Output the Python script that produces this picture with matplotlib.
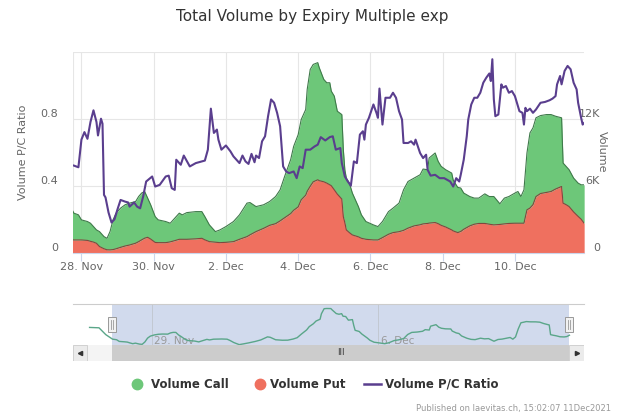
import numpy as np
import matplotlib
matplotlib.use("Agg")
import matplotlib.pyplot as plt
import matplotlib.transforms as mtransforms
from matplotlib.lines import Line2D
from matplotlib.patches import Rectangle

# hours since 28 Nov 2021 00:00, volumes in thousands
vol_hours = [-22, -15, -10, -5, -2, 0, 4, 6, 8, 10, 12, 15, 17, 19, 21, 23, 26, 29, 32, 36,
             38, 40, 42, 44, 46, 49, 51, 56, 59, 62, 65, 67, 70, 76, 80, 82, 85, 89, 92, 96,
             101, 105, 110, 112, 116, 121, 125, 129, 132, 135, 139, 141, 144, 146, 149, 150,
             152, 154, 157, 158, 161, 163, 165, 166, 168, 170, 173, 174, 175, 176, 178, 180,
             184, 186, 189, 194, 197, 200, 204, 207, 211, 214, 217, 221, 225, 227, 230, 231,
             235, 237, 239, 242, 246, 247, 250, 252, 254, 258, 261, 264, 268, 271, 274, 278,
             281, 284, 288, 290, 292, 294, 296, 298, 300, 302, 305, 309, 312, 315, 319, 320,
             322, 324, 327, 330, 332, 334]
vol_call = [5.5, 5.4, 3.6, 2.40, 2.25, 1.80, 1.69, 1.62, 1.39, 1.20, 1.34, 1.09, 1.03, 1.64, 2.66,
            3.19, 3.51, 3.69, 3.75, 3.73, 4.04, 4.19, 4.18, 3.51, 3.07, 2.31, 2.04, 1.89, 1.67,
            2.01, 2.34, 2.19, 2.39, 2.44, 2.39, 2.08, 1.50, 0.95, 1.14, 1.41, 1.80, 2.19, 3.00,
            2.89, 2.24, 2.11, 2.13, 2.43, 2.78, 3.70, 4.83, 5.72, 6.47, 7.19, 7.67, 9.12, 10.46,
            10.51, 10.49, 10.12, 9.17, 8.99, 9.14, 8.47, 8.39, 7.42, 7.57, 6.00, 4.73, 4.64,
            4.43, 3.75, 2.71, 2.10, 1.59, 1.35, 1.20, 1.44, 2.03, 2.19, 2.56, 3.63, 4.18, 4.28,
            4.48, 4.91, 4.81, 5.83, 6.23, 5.58, 5.28, 5.13, 5.09, 4.55, 4.05, 3.89, 3.24, 2.63,
            2.34, 2.27, 2.65, 2.48, 2.54, 1.85, 2.31, 2.41, 2.70, 2.84, 2.39, 2.99, 5.09, 6.73,
            6.88, 7.05, 6.98, 6.97, 6.89, 6.52, 6.15, 3.59, 3.43, 3.30, 3.03, 2.98, 3.08, 3.44]
vol_put = [1.3, 1.2, 1.2, 1.14, 1.14, 1.14, 1.10, 1.02, 0.95, 0.84, 0.55, 0.35, 0.26, 0.25, 0.28,
           0.35, 0.48, 0.60, 0.69, 0.85, 0.99, 1.15, 1.30, 1.38, 1.22, 0.92, 0.90, 0.90, 0.97,
           1.08, 1.20, 1.20, 1.20, 1.24, 1.29, 1.15, 0.99, 0.94, 0.90, 0.93, 0.99, 1.20, 1.44,
           1.60, 1.89, 2.18, 2.45, 2.60, 2.85, 3.13, 3.50, 3.80, 4.10, 4.73, 5.15, 5.50, 5.95,
           6.35, 6.53, 6.45, 6.35, 6.23, 6.08, 6.00, 5.63, 5.25, 4.80, 3.23, 2.70, 2.04, 1.80,
           1.59, 1.42, 1.29, 1.20, 1.14, 1.14, 1.35, 1.65, 1.80, 1.88, 2.00, 2.20, 2.40, 2.50,
           2.58, 2.62, 2.65, 2.70, 2.60, 2.45, 2.30, 2.04, 1.95, 1.80, 1.90, 2.10, 2.40, 2.55,
           2.62, 2.62, 2.55, 2.49, 2.53, 2.58, 2.62, 2.64, 2.64, 2.64, 2.64, 3.84, 4.00, 4.30,
           5.03, 5.30, 5.40, 5.48, 5.70, 5.93, 4.44, 4.30, 4.13, 3.65, 3.25, 3.00, 2.64]

ratio_hours = [-5, -2, 0, 2, 4, 6, 8, 10, 11, 13, 14, 15, 16, 18, 20, 22, 24, 26, 29, 31, 32, 35,
               37, 39, 41, 43, 47, 49, 52, 56, 58, 60, 62, 63, 66, 68, 72, 76, 80, 82, 84, 86,
               88, 90, 91, 93, 96, 99, 101, 103, 105, 107, 109, 111, 113, 115, 116, 118, 120,
               122, 124, 126, 128, 130, 132, 134, 136, 138, 141, 143, 145, 147, 149, 152, 155,
               157, 159, 162, 165, 167, 169, 172, 173, 175, 177, 179, 181, 183, 185, 187, 188,
               189, 191, 194, 196, 197, 198, 200, 202, 205, 207, 209, 211, 213, 214, 217, 219,
               221, 222, 225, 227, 229, 230, 232, 235, 238, 241, 245, 247, 249, 251, 252, 254,
               256, 257, 259, 261, 263, 265, 267, 269, 271, 272, 273, 274, 275, 277, 279, 280,
               282, 284, 286, 288, 290, 291, 293, 294, 295, 296, 298, 300, 302, 305, 308, 311,
               313, 315, 316, 318, 319, 321, 323, 325, 327, 329, 330, 332, 333, 335]
ratio = [0.52, 0.51, 0.675, 0.72, 0.68, 0.78, 0.85, 0.78, 0.70, 0.80, 0.77, 0.345, 0.33, 0.24,
         0.18, 0.20, 0.26, 0.315, 0.305, 0.30, 0.275, 0.30, 0.275, 0.265, 0.335, 0.425, 0.455,
         0.395, 0.405, 0.455, 0.46, 0.385, 0.375, 0.555, 0.525, 0.58, 0.515, 0.535, 0.545, 0.55,
         0.615, 0.86, 0.715, 0.735, 0.675, 0.615, 0.64, 0.605, 0.575, 0.555, 0.535, 0.58, 0.545,
         0.53, 0.59, 0.54, 0.58, 0.565, 0.665, 0.695, 0.815, 0.915, 0.895, 0.835, 0.755, 0.515,
         0.485, 0.475, 0.485, 0.445, 0.515, 0.505, 0.615, 0.615, 0.635, 0.645, 0.69, 0.67, 0.69,
         0.695, 0.615, 0.625, 0.535, 0.455, 0.425, 0.40, 0.545, 0.535, 0.705, 0.725, 0.675,
         0.765, 0.805, 0.885, 0.835, 0.805, 0.98, 0.765, 0.925, 0.925, 0.955, 0.925, 0.845,
         0.795, 0.655, 0.655, 0.665, 0.645, 0.675, 0.595, 0.565, 0.585, 0.495, 0.46, 0.465,
         0.445, 0.445, 0.425, 0.395, 0.445, 0.425, 0.465, 0.555, 0.695, 0.795, 0.885, 0.925,
         0.925, 0.955, 1.015, 1.045, 1.07, 1.025, 1.155, 0.915, 0.815, 0.825, 1.005, 0.985,
         0.995, 0.955, 0.965, 0.935, 0.875, 0.845, 0.835, 0.765, 0.865, 0.845, 0.86, 0.835,
         0.855, 0.895, 0.90, 0.91, 0.92, 0.935, 1.005, 1.055, 1.005, 1.085, 1.115, 1.095,
         1.015, 0.975, 0.895, 0.805, 0.765, 0.785]

x_tick_hours = [0, 48, 96, 144, 192, 240, 288]
x_tick_labels = ["28. Nov", "30. Nov", "2. Dec", "4. Dec", "6. Dec", "8. Dec", "10. Dec"]
ratio_ticks = [0, 0.4, 0.8, 1.2]
ratio_tick_labels = ["0", "0.4", "0.8", ""]
vol_ticks = [0, 6, 12, 18]
vol_tick_labels = ["0", "6K", "12K", ""]
nav_tick_hours = [24, 192]
nav_tick_labels = ["29. Nov", "6. Dec"]

GREEN = "#6dc779"
RED = "#ef705f"
PURPLE = "#5a3e8e"
GRID = "#e6e6e6"
TXT = "#666666"

W, H = 624, 416
def box(x0, y0, x1, y1):
    return [x0 / W, 1 - y1 / H, (x1 - x0) / W, (y1 - y0) / H]

plt.rcParams["font.family"] = ["DejaVu Sans"]
fig = plt.figure(figsize=(6.24, 4.16), dpi=100)

view = (-5.6, 333.9)
call = np.array(vol_call)
put = np.array(vol_put)

## main chart: volume on the right axis, ratio on the left
ax = fig.add_axes(box(73, 51.7, 584, 252.7))
axr = ax.twinx()

ax.fill_between(vol_hours, 0, put, color=RED, lw=0, zorder=2)
ax.fill_between(vol_hours, put, put + call, color=GREEN, lw=0, zorder=2)
ax.plot(vol_hours, put, color="#80483f", lw=0.8, zorder=3)
ax.plot(vol_hours, put + call, color="#3f7a4a", lw=0.8, zorder=3)
ax.set_xlim(*view)
ax.set_ylim(0, 18)
ax.set_xticks(x_tick_hours, x_tick_labels)
ax.set_yticks(vol_ticks, vol_tick_labels)
ax.yaxis.tick_right()
ax.grid(True, color=GRID, lw=0.8, zorder=0)
ax.set_axisbelow(True)
for s in ["top", "left", "right"]:
    ax.spines[s].set_visible(False)
ax.spines["bottom"].set_color("#ccd6eb")
ax.tick_params(axis="x", length=6, color="#ccd6eb", pad=1, labelsize=8, labelcolor=TXT)
ax.tick_params(axis="y", length=0, pad=11.5, labelsize=8, labelcolor=TXT)
plt.setp(ax.get_yticklabels(), ha="right")
ax.yaxis.set_label_position("right")
ax.set_ylabel("Volume", rotation=270, fontsize=8, color=TXT, ha="center", va="center")
ax.yaxis.set_label_coords((601.7 - 73) / 511, 0.5)
ax.axvline(view[0], color=GRID, lw=0.8, zorder=1)

axr.plot(ratio_hours, ratio, color=PURPLE, lw=1.5, solid_joinstyle="round")
axr.set_ylim(0, 1.2)
axr.set_xlim(*view)
axr.set_yticks(ratio_ticks, ratio_tick_labels)
axr.yaxis.tick_left()
axr.tick_params(axis="y", length=0, pad=10.6, labelsize=8, labelcolor=TXT)
axr.yaxis.set_label_position("left")
axr.set_ylabel("Volume P/C Ratio", fontsize=8, color=TXT, ha="center", va="center")
axr.yaxis.set_label_coords((22.7 - 73) / 511, 0.5)
for s in axr.spines.values():
    s.set_visible(False)

up = mtransforms.ScaledTranslation(0, 6 / 100, fig.dpi_scale_trans)
for lab in ax.get_yticklabels() + axr.get_yticklabels():
    lab.set_transform(lab.get_transform() + up)

fig.text(0.5, 1 - 17 / H, "Total Volume by Expiry Multiple exp", ha="center", va="center",
         fontsize=11, color="#333333")

## navigator
nav_lim = (-34.3, 344.8)
nav = fig.add_axes(box(73, 304, 584, 345))
nav.set_xlim(*nav_lim)
nav.set_ylim(0.85, 11.7)
nav.axis("off")
nav.axvspan(*view, color="#d1daed", lw=0, zorder=0)
for h, lab in zip(nav_tick_hours, nav_tick_labels):
    nav.axvline(h, color="#c2c8d2", lw=0.7, zorder=1)
    nav.text(h + 2, 2.0, lab, fontsize=7.5, color="#999999", ha="left", va="center", zorder=1)
nav.plot(vol_hours, call, color="#5aa689", lw=1.0, zorder=2)
fig.add_artist(Line2D([73 / W, 584 / W], [1 - 304 / H] * 2, color="#cccccc", lw=0.8))
for hx in view:
    nav.add_patch(Rectangle((hx - 3, 4.3), 6, 3.9, facecolor="#f2f2f2", edgecolor="#999999",
                            lw=0.7, zorder=4, transform=nav.transData))
    nav.plot([hx - 0.8, hx - 0.8], [5.0, 7.5], color="#999999", lw=0.6, zorder=5)
    nav.plot([hx + 0.8, hx + 0.8], [5.0, 7.5], color="#999999", lw=0.6, zorder=5)

## scrollbar
sb = fig.add_axes(box(73, 345, 584, 360.7))
sb.set_xlim(*nav_lim)
sb.set_ylim(0, 1)
sb.axis("off")
sb.add_patch(Rectangle((nav_lim[0], 0), nav_lim[1] - nav_lim[0], 1, color="#f4f4f4", lw=0))
sb.add_patch(Rectangle((view[0], 0), view[1] - view[0], 1, color="#cccccc", lw=0))
sb.text(sum(view) / 2, 0.5, "III", fontsize=6, color="#333333", ha="center", va="center")
sb.add_patch(Rectangle((nav_lim[0], 0), 10.2, 1, facecolor="#ebebeb", edgecolor="#cccccc", lw=0.6))
sb.add_patch(Rectangle((view[1], 0), nav_lim[1] - view[1], 1, facecolor="#ebebeb",
                       edgecolor="#cccccc", lw=0.6))
sb.plot([nav_lim[0] + 5.1], [0.5], marker="<", ms=3, color="#333333")
sb.plot([(view[1] + nav_lim[1]) / 2], [0.5], marker=">", ms=3, color="#333333")

## legend
ly = 1 - 384.4 / H
fig.add_artist(Line2D([136.8 / W], [ly], marker="o", ms=7.5, color=GREEN, lw=0))
fig.add_artist(Line2D([259.8 / W], [ly], marker="o", ms=7.5, color=RED, lw=0))
fig.add_artist(Line2D([364 / W, 380.7 / W], [ly, ly], color=PURPLE, lw=1.8))
for x0, name in [(150.8, "Volume Call"), (270.5, "Volume Put"), (384.8, "Volume P/C Ratio")]:
    fig.text(x0 / W, ly, name, ha="left", va="center", fontsize=8.5, fontweight="bold",
             color="#333333")

fig.text(611 / W, 1 - 408.5 / H, "Published on laevitas.ch, 15:02:07 11Dec2021", ha="right",
         va="center", fontsize=6, color="#999999")

fig.savefig("out.png", dpi=100)
